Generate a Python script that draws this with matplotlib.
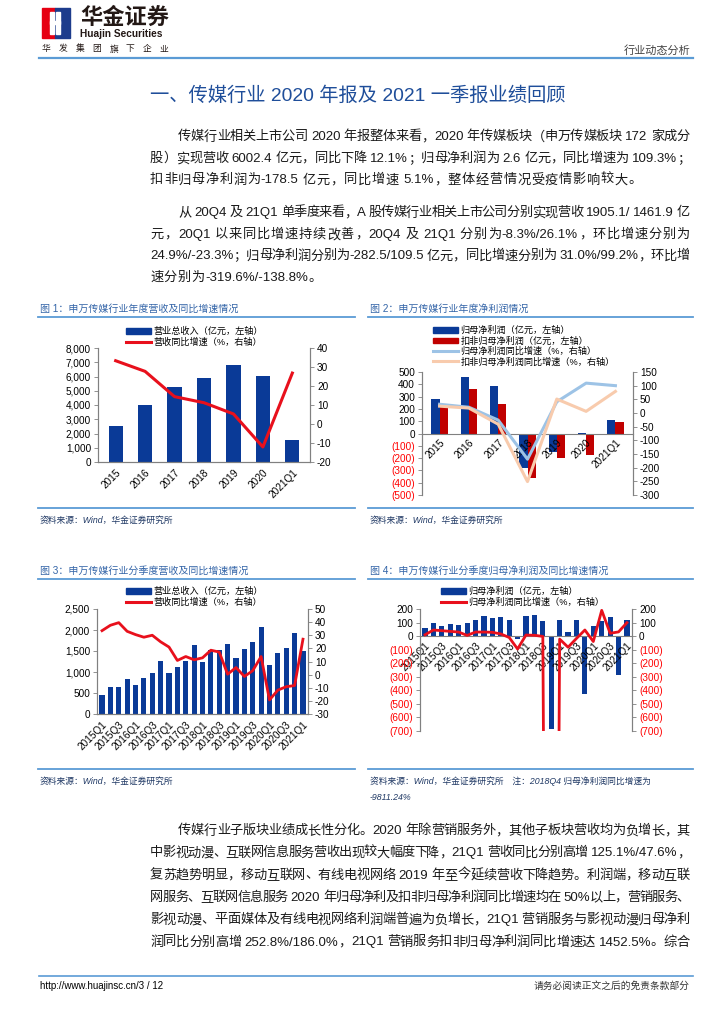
import re
import matplotlib
matplotlib.use('Agg')
import matplotlib.pyplot as plt
import numpy as np
from matplotlib.patches import Rectangle
from matplotlib.lines import Line2D

# ---------------- data ----------------
years = ['2015', '2016', '2017', '2018', '2019', '2020', '2021Q1']
rev_annual = [2530, 3980, 5240, 5920, 6790, 6050, 1540]
rev_annual_yoy = [33.3, 27.7, 14.4, 11.2, 5.3, -12.1, 26.8]

np_parent = [280, 460, 390, -278, -148, 2.6, 109.5]
np_deduct = [212, 360, 238, -360, -202, -178.5, 92]
np_parent_yoy = [32, 21, -26, -169, 41, 109.3, 100]
np_deduct_yoy = [25, 18, -41, -251, 51, 6, 79]

quarters = ['2015Q1', '2015Q2', '2015Q3', '2015Q4', '2016Q1', '2016Q2', '2016Q3', '2016Q4',
            '2017Q1', '2017Q2', '2017Q3', '2017Q4', '2018Q1', '2018Q2', '2018Q3', '2018Q4',
            '2019Q1', '2019Q2', '2019Q3', '2019Q4', '2020Q1', '2020Q2', '2020Q3', '2020Q4',
            '2021Q1']
rev_q = [458, 650, 640, 825, 685, 852, 985, 1270, 970, 1130, 1255, 1635, 1245, 1525, 1530,
         1665, 1335, 1555, 1705, 2060, 1175, 1462, 1565, 1940, 1505]
rev_q_yoy = [33.5, 37.6, 39.6, 33.0, 30.5, 28.5, 30.0, 25.0, 21.0, 10.8, 13.8, 11.3, 12.8,
             18.6, 17.2, 0.3, 5.4, -1.4, 3.0, 13.8, -19.3, -11.8, -9.2, -8.3, 27.0]

np_q = [60, 95, 78, 88, 83, 98, 120, 150, 132, 142, 120, -18, 147, 157, 115, -685,
        120, 33, 122, -428, 73, 112, 140, -285, 120]
np_q_yoy = [10, 45, 40, 35, 30, 5, 30, 30, 28, 16, -10, -95, 8, 6, -2, -9811.24,
            -22, -82, -17, 45, -40, 190, 21, 31.0, 99.2]

# ---------------- style ----------------
CJK = ['Liberation Sans', 'Noto Sans CJK SC', 'DejaVu Sans']
plt.rcParams['font.family'] = CJK
plt.rcParams['axes.unicode_minus'] = False

BLUE_BAR = '#0A3A97'
RED = '#E8101C'
DARK_RED = '#C00000'
LIGHT_BLUE = '#9DC3E6'
PEACH = '#F8CBAD'
LINE_BLUE = '#5B9BD5'
TITLE_BLUE = '#1F4E9A'
FIG_BLUE = '#3465A8'
SPINE = '#808080'
NEG_RED = '#FF0000'

W, H = 724, 1024
fig = plt.figure(figsize=(7.24, 10.24), dpi=100)
renderer = fig.canvas.get_renderer()


def fx(x):
    return x / W


def fy(y):
    return 1 - y / H


def axes_px(l, t, r, b):
    return fig.add_axes([l / W, 1 - b / H, (r - l) / W, (b - t) / H])


def hline(x0, x1, y, color=LINE_BLUE, lw=1.3):
    fig.add_artist(Line2D([fx(x0), fx(x1)], [fy(y), fy(y)], color=color, lw=lw,
                          transform=fig.transFigure))


def tokenize(s):
    toks = []
    cur = ''
    for ch in s:
        if ch == ' ':
            if cur:
                toks.append(cur)
                cur = ''
            toks.append(' ')
        elif ord(ch) < 128:
            cur += ch
        else:
            if cur:
                toks.append(cur)
                cur = ''
            toks.append(ch)
    if cur:
        toks.append(cur)
    return toks


def text_line(s, x0, x1, y, size=9.5, color='#1a1a1a', justify=True):
    toks = tokenize(s)
    items = []
    space_w = 3.5
    nat = 0.0
    for t in toks:
        if t == ' ':
            items.append((None, space_w))
            nat += space_w
        else:
            tx = fig.text(0, 0, t, fontsize=size, color=color, va='center', ha='left')
            w = tx.get_window_extent(renderer).width
            items.append((tx, w))
            nat += w
    n_real = len([i for i in items if i[0] is not None])
    gaps = max(n_real - 1, 1)
    extra = (x1 - x0 - nat) / gaps if justify else 0.6
    x = x0
    first = True
    for tx, w in items:
        if tx is None:
            x += w
            continue
        if not first:
            x += extra
        tx.set_position((fx(x), fy(y)))
        x += w
        first = False


def paragraph(lines, y0, dy, x_left=150, x_indent=178, x_right=690, last_justify=False):
    for i, s in enumerate(lines):
        xs = x_indent if i == 0 else x_left
        just = (i < len(lines) - 1) or last_justify
        text_line(s, xs, x_right, y0 + i * dy, justify=just)


def style_axis(ax):
    for sp in ax.spines.values():
        sp.set_color(SPINE)
        sp.set_linewidth(0.8)
    ax.spines['top'].set_visible(False)
    ax.tick_params(axis='both', labelsize=7.2, colors='black', length=3, width=0.6,
                   color=SPINE, pad=2)


def fmt_comma(v):
    return '{:,.0f}'.format(v)


def fmt_paren(v):
    v = int(round(v))
    return '({})'.format(abs(v)) if v < 0 else str(v)


def color_negs(labels):
    for lab in labels:
        if lab.get_text().startswith('('):
            lab.set_color(NEG_RED)


def legend(ax, handles, labels, x, y, hl=2.7):
    ax.legend(handles, labels, loc='upper left', bbox_to_anchor=(fx(x), fy(y)),
              bbox_transform=fig.transFigure, frameon=False, fontsize=6.6,
              handlelength=hl, handleheight=0.55, labelspacing=0.12, borderpad=0,
              handletextpad=0.3, borderaxespad=0)

# ---------------- header ----------------
fig.add_artist(Rectangle((fx(42), fy(38)), 13 / W, 30 / H, color='#E60012', transform=fig.transFigure))
fig.add_artist(Rectangle((fx(55), fy(38)), 15 / W, 30 / H, color='#1D3C8C', transform=fig.transFigure))
fig.add_artist(Rectangle((fx(50), fy(34)), 4 / W, 22 / H, color='white', transform=fig.transFigure))
fig.add_artist(Rectangle((fx(56), fy(34)), 4 / W, 22 / H, color='white', transform=fig.transFigure))
fig.add_artist(Rectangle((fx(50), fy(24)), 10 / W, 3 / H, color='white', transform=fig.transFigure))
fig.text(fx(80), fy(18), '华金证券', fontsize=16, fontweight='bold', color='#231815', va='center', ha='left')
fig.text(fx(80), fy(34), 'Huajin Securities', fontsize=7.3, fontweight='bold', color='#231815', va='center', ha='left')
for i, ch in enumerate('华发集团旗下企业'):
    fig.text(fx(42 + i * 16.8), fy(49), ch, fontsize=6.3, color='#231815', va='center', ha='left')
fig.text(fx(690), fy(50), '行业动态分析', fontsize=8, color='#444444', va='center', ha='right')
hline(39, 693, 58, lw=1.6)

# ---------------- title & paragraphs ----------------
fig.text(fx(150), fy(96), '一、传媒行业 2020 年报及 2021 一季报业绩回顾', fontsize=13.9,
         color=TITLE_BLUE, va='center', ha='left')

para1 = ['传媒行业相关上市公司 2020 年报整体来看，2020 年传媒板块（申万传媒板块 172 家成分',
         '股）实现营收 6002.4 亿元，同比下降 12.1%；归母净利润为 2.6 亿元，同比增速为 109.3%；',
         '扣非归母净利润为-178.5 亿元，同比增速 5.1%，整体经营情况受疫情影响较大。']
para2 = ['从 20Q4 及 21Q1 单季度来看，A 股传媒行业相关上市公司分别实现营收 1905.1/ 1461.9 亿',
         '元，20Q1 以来同比增速持续改善，20Q4 及 21Q1 分别为-8.3%/26.1%，环比增速分别为',
         '24.9%/-23.3%；归母净利润分别为-282.5/109.5 亿元，同比增速分别为 31.0%/99.2%，环比增',
         '速分别为-319.6%/-138.8%。']
para3 = ['传媒行业子版块业绩成长性分化。2020 年除营销服务外，其他子板块营收均为负增长，其',
         '中影视动漫、互联网信息服务营收出现较大幅度下降，21Q1 营收同比分别高增 125.1%/47.6%，',
         '复苏趋势明显，移动互联网、有线电视网络 2019 年至今延续营收下降趋势。利润端，移动互联',
         '网服务、互联网信息服务 2020 年归母净利及扣非归母净利润同比增速均在 50%以上，营销服务、',
         '影视动漫、平面媒体及有线电视网络利润端普遍为负增长，21Q1 营销服务与影视动漫归母净利',
         '润同比分别高增 252.8%/186.0%，21Q1 营销服务扣非归母净利润同比增速达 1452.5%。综合']
paragraph(para1, 137, 21.7)
paragraph(para2, 213, 21.7)
paragraph(para3, 831, 22.3, last_justify=True)

# ---------------- figure titles / sources ----------------
def fig_title(x, y, s, x1):
    fig.text(fx(x), fy(y), s, fontsize=7.2, color=FIG_BLUE, va='center', ha='left')
    hline(x - 2, x1, y + 8)


def source(x, y, s):
    fig.text(fx(x), fy(y), s, fontsize=6.3, color='#1F3864', style='italic', va='center', ha='left')

fig_title(40, 309, '图 1：申万传媒行业年度营收及同比增速情况', 355)
fig_title(370, 309, '图 2：申万传媒行业年度净利润情况', 693)
hline(38, 355, 508)
hline(368, 693, 508)
source(40, 520, '资料来源：Wind，华金证券研究所')
source(370, 520, '资料来源：Wind，华金证券研究所')

fig_title(40, 571, '图 3：申万传媒行业分季度营收及同比增速情况', 355)
fig_title(370, 571, '图 4：申万传媒行业分季度归母净利润及同比增速情况', 693)
hline(38, 355, 769)
hline(368, 693, 769)
source(40, 781, '资料来源：Wind，华金证券研究所')
source(370, 781, '资料来源：Wind，华金证券研究所　注：2018Q4 归母净利润同比增速为')
source(370, 798, '-9811.24%')

# ---------------- chart 1 ----------------
ax1 = axes_px(98, 348, 310, 462)
x = np.arange(len(years))
style_axis(ax1)
ax1.bar(x, rev_annual, width=0.48, color=BLUE_BAR)
ax1.set_xlim(-0.6, len(years) - 0.4)
ax1.set_ylim(0, 8000)
ax1.set_yticks(np.arange(0, 8001, 1000))
ax1.set_yticklabels([fmt_comma(v) for v in np.arange(0, 8001, 1000)])
ax1.set_xticks(x)
ax1.set_xticklabels(years, rotation=45, ha='right', rotation_mode='anchor')
ax1.tick_params(axis='x', length=0, pad=4)
ax1r = ax1.twinx()
style_axis(ax1r)
ax1r.plot(x, rev_annual_yoy, color=RED, lw=2.2)
ax1r.set_ylim(-20, 40)
ax1r.set_yticks(np.arange(-20, 41, 10))
legend(ax1r, [Rectangle((0, 0), 1, 1, color=BLUE_BAR), Line2D([], [], color=RED, lw=2.2)],
       ['营业总收入（亿元，左轴）', '营收同比增速（%，右轴）'], 126, 327)

# ---------------- chart 2 ----------------
ax2 = axes_px(422, 372, 633, 495)
x = np.arange(len(years))
bw = 0.28
style_axis(ax2)
ax2.spines['bottom'].set_position(('data', 0))
ax2.bar(x - bw / 2, np_parent, width=bw, color=BLUE_BAR)
ax2.bar(x + bw / 2, np_deduct, width=bw, color=DARK_RED)
ax2.set_xlim(-0.6, len(years) - 0.4)
ax2.set_ylim(-500, 500)
t2 = np.arange(-500, 501, 100)
ax2.set_yticks(t2)
ax2.set_yticklabels([fmt_paren(v) for v in t2])
color_negs(ax2.get_yticklabels())
ax2.set_xticks(x)
ax2.set_xticklabels(years, rotation=45, ha='right', rotation_mode='anchor')
ax2.tick_params(axis='x', length=0, pad=3, labelsize=7.2)
ax2r = ax2.twinx()
style_axis(ax2r)
ax2r.spines['bottom'].set_visible(False)
ax2r.plot(x, np_parent_yoy, color=LIGHT_BLUE, lw=2.2)
ax2r.plot(x, np_deduct_yoy, color=PEACH, lw=2.2)
ax2r.set_ylim(-300, 150)
ax2r.set_yticks(np.arange(-300, 151, 50))
legend(ax2r, [Rectangle((0, 0), 1, 1, color=BLUE_BAR), Rectangle((0, 0), 1, 1, color=DARK_RED),
              Line2D([], [], color=LIGHT_BLUE, lw=2.2), Line2D([], [], color=PEACH, lw=2.2)],
       ['归母净利润（亿元，左轴）', '扣非归母净利润（亿元，左轴）',
        '归母净利润同比增速（%，右轴）', '扣非归母净利润同比增速（%，右轴）'], 433, 326)

# ---------------- chart 3 ----------------
ax3 = axes_px(97, 609, 308, 714)
x = np.arange(len(quarters))
style_axis(ax3)
ax3.bar(x, rev_q, width=0.62, color=BLUE_BAR)
ax3.set_xlim(-0.6, len(quarters) - 0.4)
ax3.set_ylim(0, 2500)
t3 = np.arange(0, 2501, 500)
ax3.set_yticks(t3)
ax3.set_yticklabels([fmt_comma(v) for v in t3])
ax3.set_xticks(x[::2])
ax3.set_xticklabels(quarters[::2], rotation=45, ha='right', rotation_mode='anchor')
ax3.tick_params(axis='x', length=0, pad=4)
ax3r = ax3.twinx()
style_axis(ax3r)
ax3r.plot(x, rev_q_yoy, color=RED, lw=2.0)
ax3r.set_ylim(-30, 50)
ax3r.set_yticks(np.arange(-30, 51, 10))
legend(ax3r, [Rectangle((0, 0), 1, 1, color=BLUE_BAR), Line2D([], [], color=RED, lw=2.2)],
       ['营业总收入（亿元，左轴）', '营收同比增速（%，右轴）'], 126, 587)

# ---------------- chart 4 ----------------
ax4 = axes_px(420, 609, 632, 731)
x = np.arange(len(quarters))
style_axis(ax4)
ax4.spines['bottom'].set_position(('data', 0))
ax4.bar(x, np_q, width=0.62, color=BLUE_BAR)
ax4.set_xlim(-0.6, len(quarters) - 0.4)
ax4.set_ylim(-700, 200)
t4 = np.arange(-700, 201, 100)
ax4.set_yticks(t4)
ax4.set_yticklabels([fmt_paren(v) for v in t4])
color_negs(ax4.get_yticklabels())
ax4.set_xticks(x[::2])
ax4.set_xticklabels(quarters[::2], rotation=45, ha='right', rotation_mode='anchor')
ax4.tick_params(axis='x', length=0, pad=3, labelsize=7.2)
ax4r = ax4.twinx()
style_axis(ax4r)
ax4r.spines['bottom'].set_visible(False)
ax4r.plot(x, np_q_yoy, color=RED, lw=2.0)
ax4r.set_ylim(-700, 200)
ax4r.set_yticks(t4)
ax4r.set_yticklabels([fmt_paren(v) for v in t4])
color_negs(ax4r.get_yticklabels())
legend(ax4r, [Rectangle((0, 0), 1, 1, color=BLUE_BAR), Line2D([], [], color=RED, lw=2.2)],
       ['归母净利润（亿元，左轴）', '归母净利润同比增速（%，右轴）'], 441, 587)

# ---------------- footer ----------------
hline(39, 693, 976, lw=1.2)
fig.text(fx(40), fy(986), 'http://www.huajinsc.cn/3 / 12', fontsize=7, color='black', va='center', ha='left')
fig.text(fx(690), fy(986), '请务必阅读正文之后的免责条款部分', fontsize=7, color='#333333', va='center', ha='right')

fig.savefig('out.png', dpi=100)
